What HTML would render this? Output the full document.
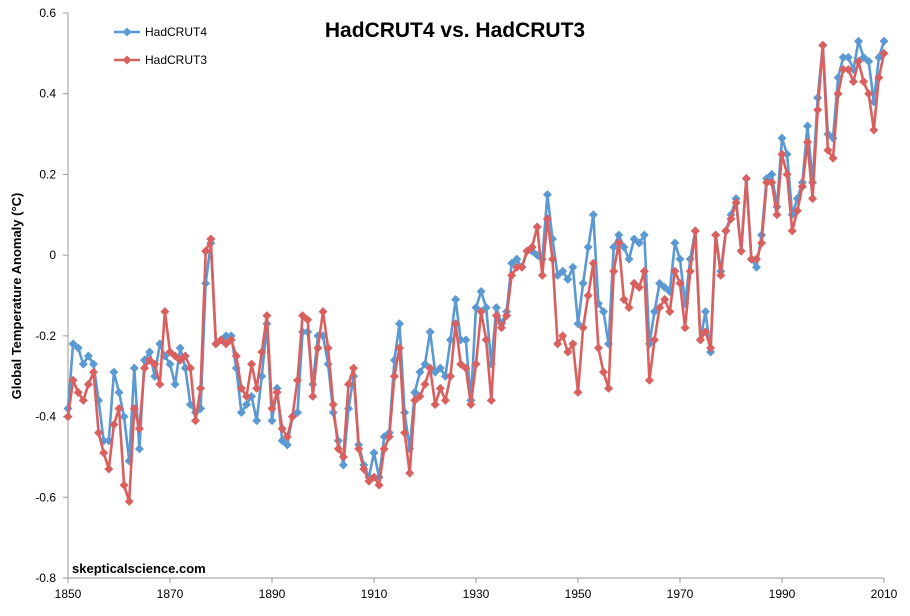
<!DOCTYPE html>
<html><head><meta charset="utf-8"><style>
body{margin:0;background:#fff;}
svg{display:block;font-family:"Liberation Sans",Arial,sans-serif;}
</style></head><body>
<svg id="c" width="910" height="616" viewBox="0 0 910 616"></svg>
<script>
var h4=[-0.38,-0.22,-0.23,-0.27,-0.25,-0.27,-0.36,-0.46,-0.46,-0.29,-0.34,-0.40,-0.51,-0.28,-0.48,-0.26,-0.24,-0.30,-0.22,-0.25,-0.27,-0.32,-0.23,-0.28,-0.37,-0.39,-0.38,-0.07,0.03,-0.22,-0.21,-0.20,-0.20,-0.28,-0.39,-0.37,-0.35,-0.41,-0.30,-0.17,-0.41,-0.33,-0.46,-0.47,-0.40,-0.39,-0.19,-0.19,-0.32,-0.20,-0.20,
-0.27,-0.39,-0.46,-0.52,-0.38,-0.30,-0.47,-0.52,-0.55,-0.49,-0.55,-0.45,-0.44,-0.26,-0.17,-0.39,-0.48,-0.34,-0.29,-0.27,-0.19,-0.29,-0.28,-0.30,-0.21,-0.11,-0.21,-0.21,-0.36,-0.13,-0.09,-0.13,-0.27,-0.13,-0.17,-0.14,-0.02,-0.01,-0.03,0.01,0.01,0.00,-0.01,0.15,0.04,-0.05,-0.04,-0.06,-0.03,-0.17,-0.07,0.02,0.10,-0.12,-0.14,-0.22,0.02,0.05,0.02,-0.01,0.04,0.03,0.05,-0.22,-0.14,-0.07,-0.08,-0.09,0.03,-0.01,-0.12,-0.01,0.06,-0.21,-0.14,-0.24,0.05,-0.04,0.06,0.10,0.14,0.01,0.19,-0.01,-0.03,0.05,0.19,0.20,0.12,0.29,0.25,0.10,0.14,0.18,0.32,0.18,0.39,0.52,0.30,0.29,0.44,0.49,0.49,0.46,0.53,0.49,0.48,0.38,0.49,0.53];
var h3=[-0.40,-0.31,-0.34,-0.36,-0.32,-0.29,-0.44,-0.49,-0.53,-0.42,-0.38,-0.57,-0.61,-0.38,-0.43,-0.28,-0.26,-0.27,-0.32,-0.14,-0.24,-0.25,-0.26,-0.25,-0.28,-0.41,-0.33,0.01,0.04,-0.22,-0.21,-0.22,-0.21,-0.25,-0.33,-0.35,-0.27,-0.33,-0.24,-0.15,-0.38,-0.34,-0.43,-0.45,-0.40,-0.31,-0.15,-0.16,-0.35,-0.23,-0.14,
-0.23,-0.37,-0.48,-0.50,-0.32,-0.28,-0.48,-0.53,-0.56,-0.55,-0.57,-0.48,-0.45,-0.30,-0.23,-0.44,-0.54,-0.36,-0.35,-0.32,-0.28,-0.37,-0.33,-0.36,-0.30,-0.17,-0.27,-0.28,-0.37,-0.27,-0.14,-0.21,-0.36,-0.15,-0.18,-0.15,-0.05,-0.03,-0.03,0.01,0.02,0.07,-0.05,0.09,-0.01,-0.22,-0.20,-0.24,-0.22,-0.34,-0.18,-0.10,-0.02,-0.23,-0.29,-0.33,-0.04,0.03,-0.11,-0.13,-0.07,-0.08,-0.04,-0.31,-0.21,-0.13,-0.11,-0.14,-0.04,-0.07,-0.18,-0.04,0.06,-0.21,-0.19,-0.23,0.05,-0.05,0.06,0.09,0.13,0.01,0.19,-0.01,-0.01,0.03,0.18,0.18,0.10,0.25,0.20,0.06,0.11,0.17,0.28,0.14,0.36,0.52,0.26,0.24,0.40,0.46,0.46,0.43,0.48,0.43,0.40,0.31,0.44,0.50];
function X(i){return 68+i*816/160;}
function Y(v){return 13+(0.6-v)*565/1.4;}
var s='';
s+='<text x="455" y="37" text-anchor="middle" font-size="21" font-weight="bold" fill="#000">HadCRUT4 vs. HadCRUT3</text>';
s+='<line x1="68" y1="13" x2="68" y2="578" stroke="#999" stroke-width="1"/>';
s+='<line x1="68" y1="578" x2="884" y2="578" stroke="#999" stroke-width="1"/>';
for(var k=0;k<=7;k++){var v=0.6-k*0.2,y=Y(v);s+='<line x1="63" y1="'+y+'" x2="68" y2="'+y+'" stroke="#999"/>';
var t=(Math.abs(v)<1e-9)?'0':v.toFixed(1);s+='<text x="56" y="'+(y+4)+'" text-anchor="end" font-size="12" fill="#000">'+t+'</text>';}
for(var yr=1850;yr<=2010;yr+=20){var x=X(yr-1850);s+='<line x1="'+x+'" y1="578" x2="'+x+'" y2="583" stroke="#999"/>';s+='<text x="'+x+'" y="598" text-anchor="middle" font-size="12" fill="#000">'+yr+'</text>';}
s+='<text transform="translate(21,296) rotate(-90)" text-anchor="middle" font-size="13" font-weight="bold" fill="#000">Global Temperature Anomaly (°C)</text>';
function ser(d,c){var p='';for(var i=0;i<d.length;i++)p+=(i?'L':'M')+X(i).toFixed(1)+' '+Y(d[i]).toFixed(1);
var o='<path d="'+p+'" fill="none" stroke="'+c+'" stroke-width="2.6" stroke-linejoin="round"/>';
for(var i=0;i<d.length;i++){var x=X(i),y=Y(d[i]);o+='<path d="M'+x+' '+(y-4.5)+'L'+(x+4.5)+' '+y+'L'+x+' '+(y+4.5)+'L'+(x-4.5)+' '+y+'Z" fill="'+c+'"/>';}
return o;}
s+=ser(h4,'#5b99d2');s+=ser(h3,'#d9605f');
function leg(y,c,t){return '<line x1="114" y1="'+y+'" x2="140" y2="'+y+'" stroke="'+c+'" stroke-width="2.6"/><path d="M127 '+(y-4.5)+'L131.5 '+y+'L127 '+(y+4.5)+'L122.5 '+y+'Z" fill="'+c+'"/><text x="145" y="'+(y+4)+'" font-size="12" fill="#000">'+t+'</text>';}
s+=leg(32,'#5b99d2','HadCRUT4');s+=leg(60,'#d9605f','HadCRUT3');
s+='<text x="72" y="573" font-size="13" font-weight="bold" fill="#000">skepticalscience.com</text>';
document.getElementById('c').innerHTML=s;
</script>
</body></html>
